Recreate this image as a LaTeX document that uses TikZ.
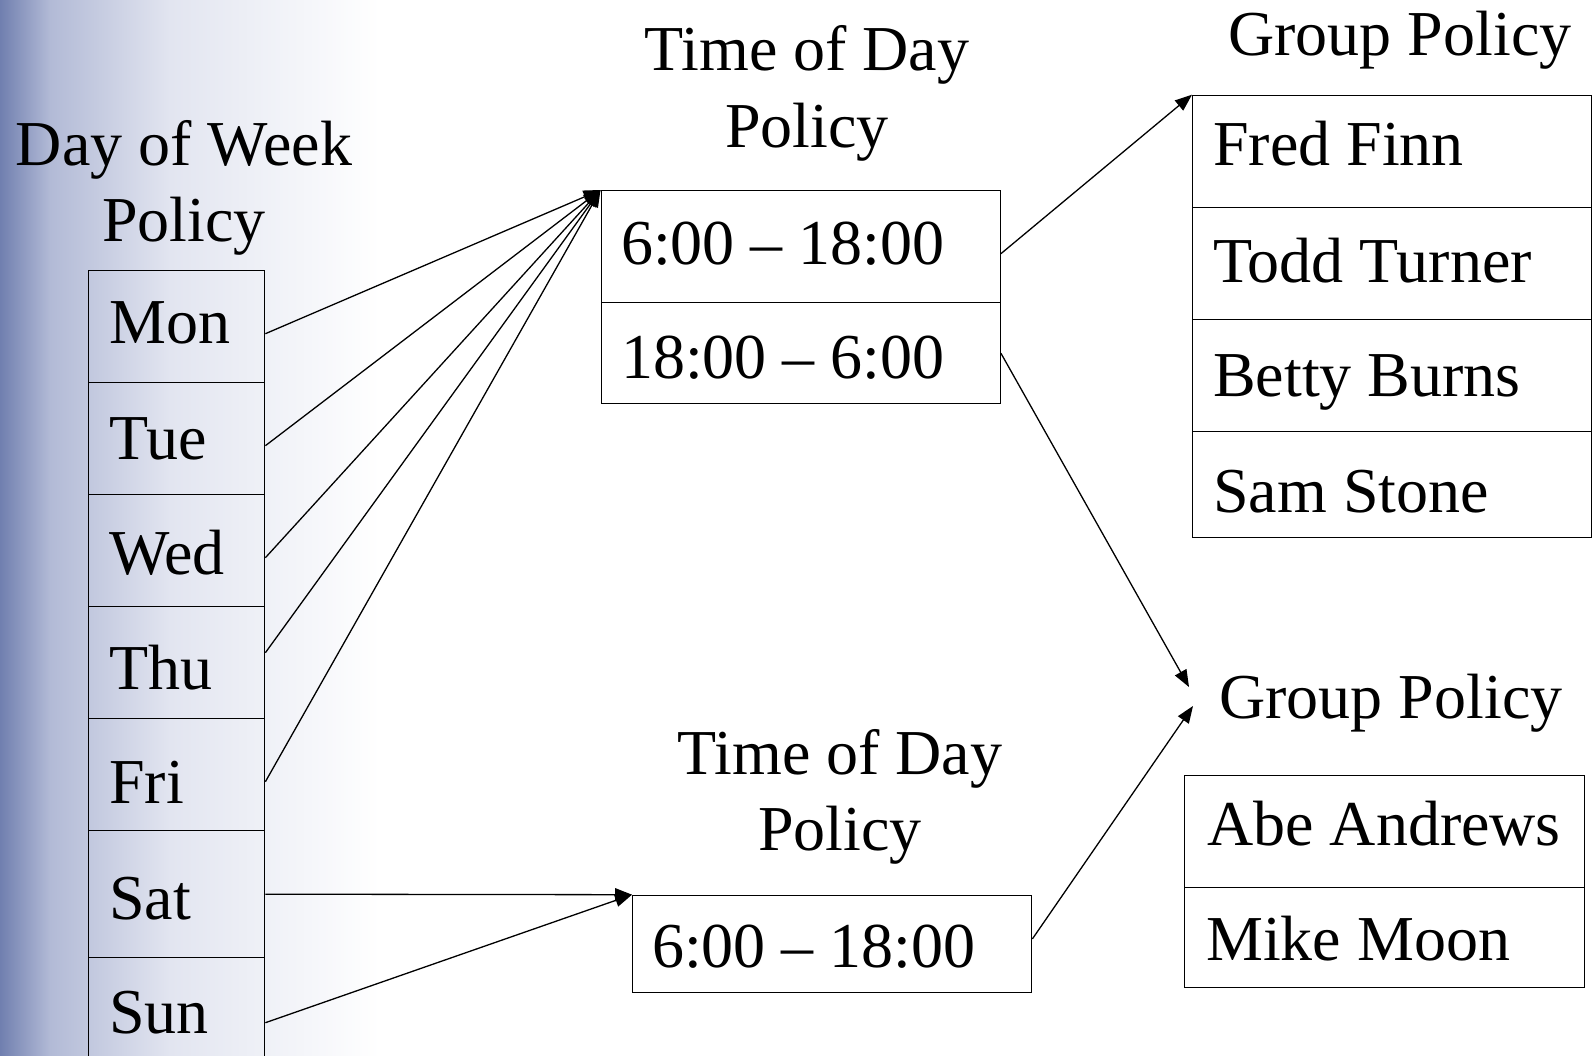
\documentclass[tikz,border=0pt]{standalone}
\usepackage{fontspec}
\setmainfont{Liberation Serif}
\usetikzlibrary{arrows.meta}
\definecolor{bgA}{RGB}{112,127,175}
\definecolor{bgB}{RGB}{178,186,214}
\definecolor{bgC}{RGB}{226,229,240}
\begin{document}
\begin{tikzpicture}[x=1pt,y=-1pt,
  box/.style={draw, line width=1.4pt, rectangle, inner sep=0pt, anchor=north west},
  txt/.style={font=\fontsize{64}{70}\selectfont, inner sep=0pt, anchor=base west},
  ttl/.style={font=\fontsize{64}{70}\selectfont, inner sep=0pt, anchor=base},
  conn/.style={line width=1.3pt, -{Triangle[length=17pt,width=13pt]}}
]
\useasboundingbox (0,0) rectangle (1596,1056);
\clip (0,0) rectangle (1596,1056);
\fill[white] (0,0) rectangle (1596,1056);
% background sky gradient on the left
\shade[left color=bgA, right color=bgB] (0,0) rectangle (50,1056);
\shade[left color=bgB, right color=bgC] (50,0) rectangle (170,1056);
\shade[left color=bgC, right color=white] (170,0) rectangle (380,1056);

% ---- Day of week policy ----
\node[ttl] (dw1) at (184,166) {Day of Week};
\node[ttl] (dw2) at (184,242) {Policy};
\node[box, minimum width=176pt, minimum height=112pt] (mon) at (88,270) {};
\node[box, minimum width=176pt, minimum height=112pt] (tue) at (88,382) {};
\node[box, minimum width=176pt, minimum height=112pt] (wed) at (88,494) {};
\node[box, minimum width=176pt, minimum height=112pt] (thu) at (88,606) {};
\node[box, minimum width=176pt, minimum height=112pt] (fri) at (88,718) {};
\node[box, minimum width=176pt, minimum height=127pt] (sat) at (88,830) {};
\node[box, minimum width=176pt, minimum height=130pt] (sun) at (88,957) {};
\node[txt] (tmon) at (109,344) {Mon};
\node[txt] (ttue) at (109,460) {Tue};
\node[txt] (twed) at (109,574) {Wed};
\node[txt] (tthu) at (109,689) {Thu};
\node[txt] (tfri) at (109,803) {Fri};
\node[txt] (tsat) at (109,919) {Sat};
\node[txt] (tsun) at (109,1033) {Sun};

% ---- Time of day policy 1 ----
\node[ttl] (td1a) at (807,71) {Time of Day};
\node[ttl] (td1b) at (807,148) {Policy};
\node[box, minimum width=399pt, minimum height=112pt] (tr1) at (600.5,190) {};
\node[box, minimum width=399pt, minimum height=101pt] (tr2) at (600.5,302) {};
\node[txt] (ttr1) at (621,265) {6:00 – 18:00};
\node[txt] (ttr2) at (621,379) {18:00 – 6:00};

% ---- Time of day policy 2 ----
\node[ttl] (td2a) at (840,774) {Time of Day};
\node[ttl] (td2b) at (840,850) {Policy};
\node[box, minimum width=399pt, minimum height=97pt] (t2) at (632,894.7) {};
\node[txt] (tt2) at (652,967) {6:00 – 18:00};

% ---- Group policy 1 ----
\node[ttl] (gp1) at (1400,56) {Group Policy};
\node[box, minimum width=399pt, minimum height=112pt] (fred) at (1192,94.7) {};
\node[box, minimum width=399pt, minimum height=112pt] (todd) at (1192,206.6) {};
\node[box, minimum width=399pt, minimum height=112pt] (betty) at (1192,318.6) {};
\node[box, minimum width=399pt, minimum height=106pt] (sam) at (1192,430.6) {};
\node[txt] (tfred) at (1213,166) {Fred Finn};
\node[txt] (ttodd) at (1213,283) {Todd Turner};
\node[txt] (tbetty) at (1213,397) {Betty Burns};
\node[txt] (tsam) at (1213,512) {Sam Stone};

% ---- Group policy 2 ----
\node[ttl] (gp2) at (1391,718) {Group Policy};
\node[box, minimum width=400pt, minimum height=112pt] (abe) at (1184,774.6) {};
\node[box, minimum width=400pt, minimum height=100pt] (mike) at (1184,886.6) {};
\node[txt] (tabe) at (1207,845) {Abe Andrews};
\node[txt] (tmike) at (1206,960) {Mike Moon};
\coordinate (gp2a) at (1189,687);
\coordinate (gp2b) at (1193,706);

% ---- connectors ----
\draw[conn] ([yshift=-7pt]mon.east) -- (tr1.north west);
\draw[conn] ([yshift=-7pt]tue.east) -- (tr1.north west);
\draw[conn] ([yshift=-7pt]wed.east) -- (tr1.north west);
\draw[conn] ([yshift=10pt]thu.east) -- (tr1.north west);
\draw[conn] ([yshift=-7pt]fri.east) -- (tr1.north west);
\draw[conn] (sat.east) -- (t2.north west);
\draw[conn] (sun.east) -- (t2.north west);
\draw[conn] ([yshift=-7pt]tr1.east) -- (fred.north west);
\draw[conn] (tr2.east) -- (gp2a);
\draw[conn] ([yshift=5pt]t2.east) -- (gp2b);
\end{tikzpicture}
\end{document}
